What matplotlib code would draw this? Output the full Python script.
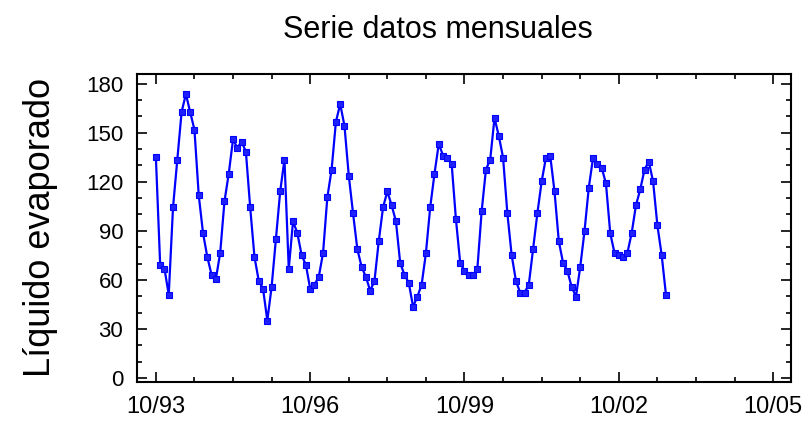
import matplotlib
matplotlib.use("Agg")
import matplotlib.pyplot as plt
import numpy as np
from matplotlib.ticker import MultipleLocator

plt.rcParams['font.family'] = ['Liberation Sans', 'DejaVu Sans']

# serie mensual, empieza en 10/93 (120 meses)
valores = [
    135, 69.3, 66.9, 50.9, 104.4, 133.6, 162.7, 173.7, 162.7, 151.8,
    111.7, 88.6, 74.0, 63.0, 60.6, 76.4, 108.0, 125.0, 146.0, 140.8,
    144.5, 138.4, 104.4, 74.0, 59.4, 54.5, 35.1, 55.7, 84.9, 114.1,
    133.6, 66.7, 95.9, 88.6, 75.2, 69.1, 54.5, 57.0, 61.8, 76.4,
    110.5, 127.5, 156.7, 167.6, 154.2, 123.8, 100.7, 78.8, 67.9, 61.8,
    53.3, 59.4, 83.7, 104.4, 114.1, 105.6, 95.9, 70.3, 63.0, 58.2,
    43.6, 49.7, 57.0, 76.4, 104.4, 125.0, 143.3, 136.0, 134.8, 131.1,
    97.1, 70.3, 65.5, 63.0, 63.0, 66.7, 101.9, 127.5, 133.6, 159.1,
    148.1, 134.8, 100.7, 75.2, 59.4, 52.1, 52.1, 57.0, 78.8, 100.7,
    120.2, 134.8, 136.0, 114.1, 83.7, 70.3, 65.5, 55.7, 49.7, 67.9,
    89.8, 116.5, 134.8, 131.1, 128.7, 119.0, 88.6, 76.4, 75.2, 74.0,
    76.4, 88.6, 105.6, 115.3, 127.5, 132.3, 120.2, 93.4, 75.2, 50.9,
]

# etiquetas del eje x (cada 36 meses desde 10/93)
x_ticks = [0, 36, 72, 108, 144]
x_labels = ["10/93", "10/96", "10/99", "10/02", "10/05"]
y_ticks = [0, 30, 60, 90, 120, 150, 180]

meses = np.arange(len(valores))

fig = plt.figure(figsize=(8.06, 4.25), dpi=100)
ax = fig.add_axes([0.170, 0.102, 0.811, 0.724])

ax.plot(meses, valores, color="#0000FF", linewidth=1.6,
        marker="s", markersize=4, markerfacecolor="#2020FF",
        markeredgecolor="#0000FF", markeredgewidth=0.8)

ax.set_xlim(-4.4, 148.1)
ax.set_ylim(-2.3, 186)
ax.set_xticks(x_ticks)
ax.set_xticklabels(x_labels)
ax.set_yticks(y_ticks)
ax.xaxis.set_minor_locator(MultipleLocator(9))
ax.yaxis.set_minor_locator(MultipleLocator(10))

ax.tick_params(which="both", direction="in", top=True, right=True, width=1.2)
ax.tick_params(which="major", length=7)
ax.tick_params(which="minor", length=3.5)
ax.tick_params(axis="x", which="major", labelsize=17, pad=10)
ax.tick_params(axis="y", which="major", labelsize=16, pad=10)
for s in ax.spines.values():
    s.set_linewidth(1.5)

fig.text(0.543, 0.93, "Serie datos mensuales", fontsize=22,
         ha="center", va="center")
ax.set_ylabel("Líquido evaporado", fontsize=26, labelpad=20)

fig.savefig("out.png", dpi=100)
